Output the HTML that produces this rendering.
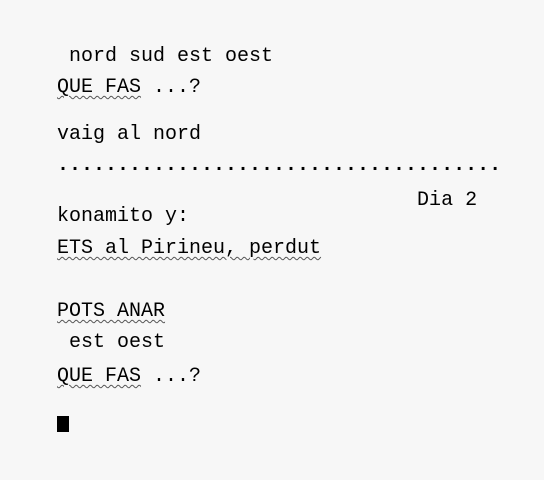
<!DOCTYPE html>
<html><head><meta charset="utf-8"><style>
html,body{margin:0;padding:0;}
body{width:544px;height:480px;background:#f7f7f7;position:relative;overflow:hidden;font-family:"Liberation Mono",monospace;font-size:20px;color:#000;}
.l{position:absolute;left:57px;line-height:20px;white-space:pre;}
.u{text-decoration:underline wavy #555;text-decoration-thickness:1px;text-underline-offset:3px;}
#cur{position:absolute;left:57px;top:416px;width:12px;height:16px;background:#000;}
</style></head><body>
<div class="l" style="top:47px"> nord sud est oest</div>
<div class="l" style="top:78px"><span class="u">QUE FAS</span> ...?</div>
<div class="l" style="top:125px">vaig al nord</div>
<div class="l" style="top:156px;font-weight:bold">.....................................</div>
<div class="l" style="top:191px">                              Dia 2</div>
<div class="l" style="top:207px">konamito y:</div>
<div class="l" style="top:239px"><span class="u">ETS al Pirineu, perdut</span></div>
<div class="l" style="top:302px"><span class="u">POTS ANAR</span></div>
<div class="l" style="top:333px"> est oest</div>
<div class="l" style="top:367px"><span class="u">QUE FAS</span> ...?</div>
<div id="cur"></div>
</body></html>
